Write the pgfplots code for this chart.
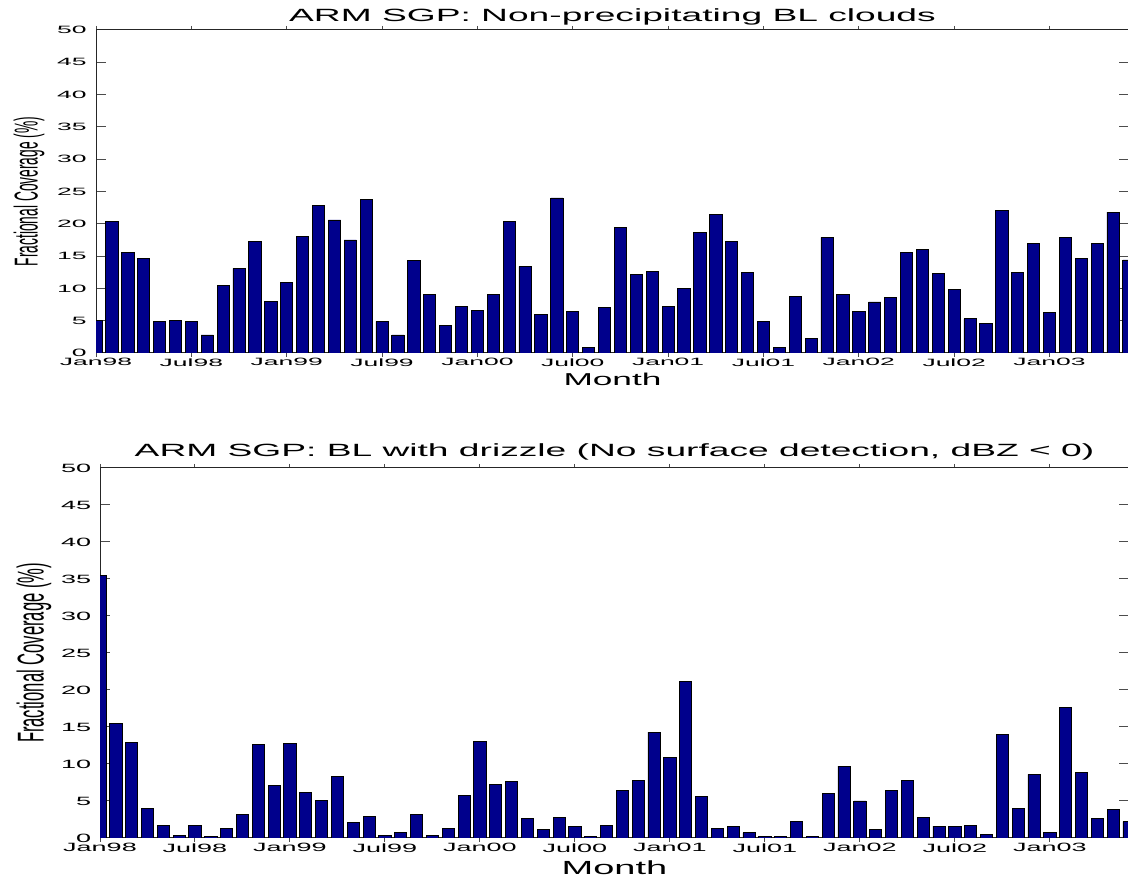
\documentclass[border=0pt]{standalone}
\usepackage{fontspec}
\setmainfont{Liberation Sans}
\usepackage{graphicx}
\usepackage{pgfplots}
\usepackage{pgfplotstable}
\pgfplotsset{compat=1.18}
\definecolor{barblue}{RGB}{0,0,140}

\pgfplotstableread{
m v
1 5.1
2 20.3
3 15.6
4 14.6
5 4.9
6 5.0
7 4.9
8 2.8
9 10.5
10 13.1
11 17.3
12 8.0
13 10.9
14 18.0
15 22.8
16 20.6
17 17.5
18 23.8
19 4.9
20 2.8
21 14.3
22 9.0
23 4.3
24 7.2
25 6.6
26 9.1
27 20.3
28 13.4
29 6.0
30 24.0
31 6.5
32 0.8
33 7.0
34 19.5
35 12.2
36 12.6
37 7.2
38 10.0
39 18.6
40 21.4
41 17.3
42 12.5
43 4.9
44 0.8
45 8.8
46 2.2
47 17.9
48 9.0
49 6.5
50 7.9
51 8.6
52 15.5
53 16.0
54 12.3
55 9.8
56 5.3
57 4.6
58 22.0
59 12.5
60 16.9
61 6.3
62 17.9
63 14.7
64 16.9
65 21.8
66 14.4
}\nonprecip

\pgfplotstableread{
m v
1 35.5
2 15.5
3 12.9
4 4.0
5 1.7
6 0.3
7 1.7
8 0.2
9 1.3
10 3.2
11 12.6
12 7.1
13 12.8
14 6.1
15 5.1
16 8.3
17 2.1
18 2.9
19 0.3
20 0.8
21 3.2
22 0.3
23 1.35
24 5.8
25 13.1
26 7.2
27 7.7
28 2.6
29 1.2
30 2.8
31 1.5
32 0.2
33 1.7
34 6.4
35 7.8
36 14.3
37 10.9
38 21.1
39 5.6
40 1.35
41 1.5
42 0.7
43 0.25
44 0.2
45 2.2
46 0.15
47 6.0
48 9.7
49 5.0
50 1.2
51 6.4
52 7.8
53 2.8
54 1.6
55 1.6
56 1.7
57 0.45
58 14.0
59 4.0
60 8.6
61 0.7
62 17.6
63 8.9
64 2.7
65 3.9
66 2.2
}\drizzle

\newcommand{\tl}[1]{\scalebox{2.5}[1]{\fontsize{5.3}{6}\selectfont #1}}
\newcommand{\bl}[1]{\scalebox{2.25}[1]{\fontsize{6.0}{7}\selectfont #1}}

\pgfplotsset{
  armbar/.style={
    scale only axis,
    xmin=1, xmax=66, ymin=0, ymax=50,
    ytick={0,5,...,50},
    xtick={1,7,...,61},
    tick align=inside,
    major tick length=5pt,
    xtick style={/pgfplots/major tick length=2pt},
    tick style={black!70, line width=0.5pt},
    axis line style={black!85, line width=0.5pt},
    ybar, bar width=0.77,
    xticklabel style={anchor=north, inner sep=0pt},
    yticklabel style={anchor=east, inner sep=0pt, xshift=-4.5pt},
    title style={at={(0.5,1)}, anchor=base, inner sep=0pt},
    xlabel style={at={(0.5,0)}, anchor=base, inner sep=0pt},
    ylabel style={at={(0,0.5)}, anchor=center, inner sep=0pt},
  },
  armfill/.style={fill=barblue, draw=black, line width=0.4pt}
}

\begin{document}
\begin{tikzpicture}
\useasboundingbox (0,0) rectangle (564pt,438.5pt);

\begin{axis}[armbar,
  at={(48pt,262pt)}, anchor=south west,
  width=516.5pt, height=161.5pt,
  xticklabels={\tl{Jan98},\tl{Jul98},\tl{Jan99},\tl{Jul99},\tl{Jan00},\tl{Jul00},\tl{Jan01},\tl{Jul01},\tl{Jan02},\tl{Jul02},\tl{Jan03}},
  yticklabels={\tl{0},\tl{5},\tl{10},\tl{15},\tl{20},\tl{25},\tl{30},\tl{35},\tl{40},\tl{45},\tl{50}},
  xticklabel style={yshift=2.5pt},
  title={\scalebox{2.1}[1]{\fontsize{8.85}{10}\selectfont ARM SGP: Non-precipitating BL clouds}},
  title style={yshift=-2pt},
  xlabel={\scalebox{2.05}[1]{\fontsize{8.6}{10}\selectfont Month}},
  xlabel style={yshift=-16.5pt},
  ylabel={\scalebox{1}[2.4]{\fontsize{6.9}{8}\selectfont Fractional Coverage (\%)}},
  ylabel style={yshift=33.5pt},
]
\addplot[armfill] table[x=m, y=v] {\nonprecip};
\end{axis}

\begin{axis}[armbar,
  at={(50pt,19.5pt)}, anchor=south west,
  width=514.5pt, height=185pt,
  xticklabels={\bl{Jan98},\bl{Jul98},\bl{Jan99},\bl{Jul99},\bl{Jan00},\bl{Jul00},\bl{Jan01},\bl{Jul01},\bl{Jan02},\bl{Jul02},\bl{Jan03}},
  yticklabels={\bl{0},\bl{5},\bl{10},\bl{15},\bl{20},\bl{25},\bl{30},\bl{35},\bl{40},\bl{45},\bl{50}},
  yticklabel style={xshift=0.3pt},
  xticklabel style={yshift=2.5pt},
  title={\scalebox{2.1}[1]{\fontsize{8.85}{10}\selectfont ARM SGP: BL with drizzle (No surface detection, dBZ < 0)}},
  title style={yshift=-0.5pt},
  xlabel={\scalebox{2.0}[1]{\fontsize{9.5}{10}\selectfont Month}},
  xlabel style={yshift=-18.5pt},
  ylabel={\scalebox{1}[2.25]{\fontsize{8.3}{9}\selectfont Fractional Coverage (\%)}},
  ylabel style={yshift=33pt},
]
\addplot[armfill] table[x=m, y=v] {\drizzle};
\end{axis}
\end{tikzpicture}
\end{document}
